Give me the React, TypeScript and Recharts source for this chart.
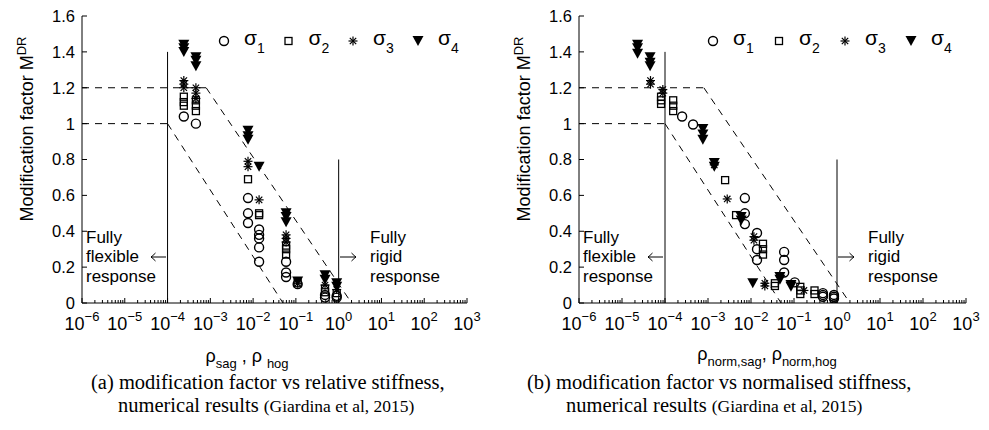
import React from 'react';
import { ScatterChart, Scatter, XAxis, YAxis, ReferenceLine } from 'recharts';

const SANS = '"Liberation Sans", Arial, sans-serif';
const SERIF = '"Liberation Serif", "Times New Roman", serif';

// axis ticks
const xMajorTicks = [1e-6, 1e-5, 1e-4, 1e-3, 1e-2, 1e-1, 1, 10, 100, 1000];
const xMinorSteps = [2, 3, 4, 5, 6, 7, 8, 9];
const xTicks = [
  ...xMajorTicks,
  ...xMajorTicks.slice(0, -1).flatMap((d) => xMinorSteps.map((m) => m * d)),
];
const yTicks = [0, 0.2, 0.4, 0.6, 0.8, 1, 1.2, 1.4, 1.6];
const sigmaNames = ['1', '2', '3', '4'];

type Pt = { x: number; y: number };

// (a) relative stiffness
const relSigma1: Pt[] = [
  { x: 2.4e-4, y: 1.04 }, { x: 4.6e-4, y: 1.0 },
  { x: 7.6e-3, y: 0.585 }, { x: 7.6e-3, y: 0.5 }, { x: 7.6e-3, y: 0.446 },
  { x: 0.0138, y: 0.41 }, { x: 0.0138, y: 0.38 }, { x: 0.0138, y: 0.36 },
  { x: 0.0138, y: 0.31 }, { x: 0.0138, y: 0.23 },
  { x: 0.059, y: 0.23 }, { x: 0.059, y: 0.17 }, { x: 0.059, y: 0.145 },
  { x: 0.11, y: 0.105 },
  { x: 0.48, y: 0.045 }, { x: 0.48, y: 0.03 },
  { x: 0.9, y: 0.04 }, { x: 0.9, y: 0.03 },
];
const relSigma2: Pt[] = [
  { x: 2.4e-4, y: 1.15 }, { x: 2.4e-4, y: 1.12 }, { x: 2.4e-4, y: 1.1 },
  { x: 4.6e-4, y: 1.13 }, { x: 4.6e-4, y: 1.1 }, { x: 4.6e-4, y: 1.07 },
  { x: 7.6e-3, y: 0.69 },
  { x: 0.0138, y: 0.5 }, { x: 0.0138, y: 0.49 },
  { x: 0.059, y: 0.32 }, { x: 0.059, y: 0.3 }, { x: 0.059, y: 0.27 },
  { x: 0.11, y: 0.11 },
  { x: 0.48, y: 0.08 }, { x: 0.48, y: 0.06 },
  { x: 0.9, y: 0.055 },
];
const relSigma3: Pt[] = [
  { x: 2.4e-4, y: 1.24 }, { x: 2.4e-4, y: 1.22 }, { x: 2.4e-4, y: 1.2 },
  { x: 4.6e-4, y: 1.2 }, { x: 4.6e-4, y: 1.17 }, { x: 4.6e-4, y: 1.14 },
  { x: 7.6e-3, y: 0.79 }, { x: 7.6e-3, y: 0.76 },
  { x: 0.0138, y: 0.575 },
  { x: 0.059, y: 0.38 }, { x: 0.059, y: 0.36 }, { x: 0.059, y: 0.34 },
  { x: 0.11, y: 0.11 },
  { x: 0.48, y: 0.1 },
  { x: 0.9, y: 0.075 },
];
const relSigma4: Pt[] = [
  { x: 2.4e-4, y: 1.44 }, { x: 2.4e-4, y: 1.42 }, { x: 2.4e-4, y: 1.4 },
  { x: 4.6e-4, y: 1.37 }, { x: 4.6e-4, y: 1.35 }, { x: 4.6e-4, y: 1.32 },
  { x: 7.6e-3, y: 0.96 }, { x: 7.6e-3, y: 0.93 }, { x: 7.6e-3, y: 0.91 },
  { x: 0.0138, y: 0.76 },
  { x: 0.059, y: 0.5 }, { x: 0.059, y: 0.48 }, { x: 0.059, y: 0.45 },
  { x: 0.11, y: 0.12 },
  { x: 0.48, y: 0.155 }, { x: 0.48, y: 0.13 },
  { x: 0.9, y: 0.11 }, { x: 0.9, y: 0.09 },
];

// (b) normalised stiffness
const normSigma1: Pt[] = [
  { x: 2.5e-4, y: 1.04 }, { x: 4.5e-4, y: 0.995 },
  { x: 7.2e-3, y: 0.585 }, { x: 7.2e-3, y: 0.5 }, { x: 7.2e-3, y: 0.44 },
  { x: 0.0138, y: 0.39 }, { x: 0.0138, y: 0.3 }, { x: 0.0138, y: 0.24 },
  { x: 0.059, y: 0.285 }, { x: 0.059, y: 0.24 }, { x: 0.059, y: 0.17 },
  { x: 0.104, y: 0.115 },
  { x: 0.47, y: 0.055 }, { x: 0.47, y: 0.045 }, { x: 0.47, y: 0.035 },
  { x: 0.85, y: 0.045 }, { x: 0.85, y: 0.035 }, { x: 0.85, y: 0.025 },
];
const normSigma2: Pt[] = [
  { x: 8.1e-5, y: 1.15 }, { x: 8.1e-5, y: 1.13 }, { x: 8.1e-5, y: 1.11 },
  { x: 1.55e-4, y: 1.13 }, { x: 1.55e-4, y: 1.1 }, { x: 1.55e-4, y: 1.07 },
  { x: 2.5e-3, y: 0.685 },
  { x: 4.5e-3, y: 0.49 },
  { x: 0.019, y: 0.33 }, { x: 0.019, y: 0.3 }, { x: 0.019, y: 0.27 },
  { x: 0.036, y: 0.11 }, { x: 0.036, y: 0.095 },
  { x: 0.14, y: 0.09 }, { x: 0.14, y: 0.07 }, { x: 0.14, y: 0.05 },
  { x: 0.3, y: 0.07 }, { x: 0.3, y: 0.05 },
];
const normSigma3: Pt[] = [
  { x: 4.6e-5, y: 1.24 }, { x: 4.6e-5, y: 1.22 },
  { x: 8.9e-5, y: 1.19 }, { x: 8.9e-5, y: 1.17 },
  { x: 1.4e-3, y: 0.77 },
  { x: 2.8e-3, y: 0.58 },
  { x: 0.0117, y: 0.37 }, { x: 0.0117, y: 0.35 },
  { x: 0.021, y: 0.11 }, { x: 0.021, y: 0.095 },
  { x: 0.17, y: 0.07 },
];
const normSigma4: Pt[] = [
  { x: 2.3e-5, y: 1.44 }, { x: 2.3e-5, y: 1.42 }, { x: 2.3e-5, y: 1.39 },
  { x: 4.5e-5, y: 1.37 }, { x: 4.5e-5, y: 1.34 }, { x: 4.5e-5, y: 1.32 },
  { x: 7.6e-4, y: 0.97 }, { x: 7.6e-4, y: 0.94 }, { x: 7.6e-4, y: 0.91 },
  { x: 1.4e-3, y: 0.78 }, { x: 1.4e-3, y: 0.76 },
  { x: 5.9e-3, y: 0.48 }, { x: 5.9e-3, y: 0.46 },
  { x: 0.011, y: 0.11 },
  { x: 0.047, y: 0.145 }, { x: 0.047, y: 0.13 },
  { x: 0.085, y: 0.1 }, { x: 0.085, y: 0.09 },
];

// guide lines (same for both panels)
const dashedGuides: Pt[][] = [
  [{ x: 1e-6, y: 1.2 }, { x: 8e-4, y: 1.2 }],
  [{ x: 8e-4, y: 1.2 }, { x: 2, y: 0 }],
  [{ x: 1e-6, y: 1 }, { x: 1e-4, y: 1 }],
  [{ x: 1e-4, y: 1 }, { x: 0.05, y: 0 }],
];
const solidGuides: Pt[][] = [
  [{ x: 1e-4, y: 0 }, { x: 1e-4, y: 1.4 }],
  [{ x: 1, y: 0 }, { x: 1, y: 0.8 }],
];

const flexibleLines = ['Fully', 'flexible', 'response'];
const rigidLines = ['Fully', 'rigid', 'response'];

// markers
const circleShape = (p: any) => (
  <circle cx={p.cx} cy={p.cy} r={4.5} fill="none" stroke="#000" strokeWidth={1.4} />
);
const squareShape = (p: any) => (
  <rect x={p.cx - 3.5} y={p.cy - 3.5} width={7} height={7} fill="none" stroke="#000" strokeWidth={1.3} />
);
const starShape = (p: any) => {
  const r = 4.5;
  const d = 3.2;
  return (
    <g stroke="#000" strokeWidth={1.2}>
      <line x1={p.cx - r} y1={p.cy} x2={p.cx + r} y2={p.cy} />
      <line x1={p.cx} y1={p.cy - r} x2={p.cx} y2={p.cy + r} />
      <line x1={p.cx - d} y1={p.cy - d} x2={p.cx + d} y2={p.cy + d} />
      <line x1={p.cx - d} y1={p.cy + d} x2={p.cx + d} y2={p.cy - d} />
    </g>
  );
};
const triShape = (p: any) => (
  <polygon
    points={`${p.cx - 5.5},${p.cy - 5} ${p.cx + 5.5},${p.cy - 5} ${p.cx},${p.cy + 5}`}
    fill="#000"
  />
);
const shapes = [circleShape, squareShape, starShape, triShape];

// ticks (drawn inward, MATLAB style)
const isMajor = (v: number) => Math.abs(Math.log10(v) - Math.round(Math.log10(v))) < 1e-6;

const bottomTick = (p: any) => {
  const v = p.payload.value;
  const major = isMajor(v);
  const e = Math.round(Math.log10(v));
  return (
    <g>
      <line x1={p.x} x2={p.x} y1={p.y} y2={p.y - (major ? 5 : 3)} stroke="#000" />
      {major && (
        <text x={p.x} y={p.y + 27} textAnchor="middle" fontSize={18} fontFamily={SANS} fill="#000">
          10
          <tspan dy={-9} fontSize={13}>{e < 0 ? '\u2212' + -e : String(e)}</tspan>
        </text>
      )}
    </g>
  );
};
const topTick = (p: any) => {
  const major = isMajor(p.payload.value);
  return <line x1={p.x} x2={p.x} y1={p.y} y2={p.y + (major ? 5 : 3)} stroke="#000" />;
};
const leftTick = (p: any) => (
  <g>
    <line x1={p.x} x2={p.x + 5} y1={p.y} y2={p.y} stroke="#000" />
    <text x={p.x - 7} y={p.y} dy="0.36em" textAnchor="end" fontSize={16.5} fontFamily={SANS} fill="#000">
      {String(p.payload.value)}
    </text>
  </g>
);
const rightTick = (p: any) => <line x1={p.x} x2={p.x - 5} y1={p.y} y2={p.y} stroke="#000" />;

function Panel({ series, yWidth, right, width }: { series: Pt[][]; yWidth: number; right: number; width: number }) {
  return (
    <ScatterChart width={width} height={370} margin={{ top: 16, right, bottom: 0, left: 0 }}>
      <XAxis
        xAxisId="b" dataKey="x" type="number" scale="log" domain={[1e-6, 1e3]} allowDataOverflow
        ticks={xTicks} interval={0} tickSize={0} tickMargin={0} tick={bottomTick} tickLine={false}
        axisLine={{ stroke: '#000' }} height={67}
      />
      <XAxis
        xAxisId="t" orientation="top" type="number" scale="log" domain={[1e-6, 1e3]} allowDataOverflow
        ticks={xTicks} interval={0} tickSize={0} tickMargin={0} tick={topTick} tickLine={false}
        axisLine={{ stroke: '#000' }} height={0}
      />
      <YAxis
        yAxisId="l" dataKey="y" type="number" domain={[0, 1.6]} allowDataOverflow ticks={yTicks} interval={0}
        tickSize={0} tickMargin={0} tick={leftTick} tickLine={false} axisLine={{ stroke: '#000' }} width={yWidth}
      />
      <YAxis
        yAxisId="r" orientation="right" type="number" domain={[0, 1.6]} allowDataOverflow ticks={yTicks} interval={0}
        tickSize={0} tickMargin={0} tick={rightTick} tickLine={false} axisLine={{ stroke: '#000' }} width={0}
      />
      {dashedGuides.map((seg, i) => (
        <ReferenceLine key={'d' + i} xAxisId="b" yAxisId="l" segment={seg} stroke="#000" strokeWidth={1} strokeDasharray="7 6" />
      ))}
      {solidGuides.map((seg, i) => (
        <ReferenceLine key={'s' + i} xAxisId="b" yAxisId="l" segment={seg} stroke="#000" strokeWidth={1} />
      ))}
      {series.map((data, i) => (
        <Scatter
          key={i} name={'σ' + sigmaNames[i]} xAxisId="b" yAxisId="l" data={data}
          shape={shapes[i]} isAnimationActive={false}
        />
      ))}
    </ScatterChart>
  );
}

function Legend({ xs, y }: { xs: number[]; y: number }) {
  return (
    <g>
      {xs.map((x, i) => (
        <g key={i}>
          {shapes[i]({ cx: x, cy: y })}
          <text x={x + 20} y={y + 4} fontSize={21} fontFamily={SANS} fill="#000">
            σ<tspan dy={8} fontSize={14}>{sigmaNames[i]}</tspan>
          </text>
        </g>
      ))}
    </g>
  );
}

// thin TeX-like arrows
function Arrow({ x1, x2, y }: { x1: number; x2: number; y: number }) {
  const s = x2 > x1 ? 1 : -1;
  return (
    <g stroke="#000" strokeWidth={1} fill="none">
      <line x1={x1} y1={y} x2={x2} y2={y} />
      <path d={`M${x2 - s * 4.5},${y - 4} Q${x2 - s * 1.5},${y - 1} ${x2},${y} Q${x2 - s * 1.5},${y + 1} ${x2 - s * 4.5},${y + 4}`} />
    </g>
  );
}

function Block({ x, lines }: { x: number; lines: string[] }) {
  return (
    <text x={x} y={243} fontSize={17} fontFamily={SANS} fill="#000">
      {lines.map((l, i) => (
        <tspan key={i} x={x} dy={i === 0 ? 0 : 19.3}>{l}</tspan>
      ))}
    </text>
  );
}

function Notes({ dx, rigidX }: { dx: number; rigidX: number }) {
  return (
    <g>
      <Block x={dx + 86} lines={flexibleLines} />
      <Arrow x1={dx + 166} x2={dx + 151} y={257} />
      <Arrow x1={rigidX + 1} x2={rigidX + 17} y={257} />
      <Block x={rigidX + 31} lines={rigidLines} />
    </g>
  );
}

export default function App() {
  const lab = { fontFamily: SANS, fill: '#000' };
  const cap = { fontFamily: SERIF, fill: '#000', fontSize: 20.5 };
  return (
    <div style={{ position: 'absolute', left: 0, top: 0, width: 989, height: 430, background: '#fff' }}>
      <div style={{ position: 'absolute', left: 0, top: 0 }}>
        <Panel series={[relSigma1, relSigma2, relSigma3, relSigma4]} yWidth={82} right={27} width={494} />
      </div>
      <div style={{ position: 'absolute', left: 494, top: 0 }}>
        <Panel series={[normSigma1, normSigma2, normSigma3, normSigma4]} yWidth={85} right={23} width={495} />
      </div>
      <svg width={989} height={430} style={{ position: 'absolute', left: 0, top: 0, pointerEvents: 'none' }}>
        <text transform="translate(33,129) rotate(-90)" textAnchor="middle" fontSize={18} {...lab}>
          Modification factor M<tspan dy={-7} fontSize={13}>DR</tspan>
        </text>
        <text transform="translate(530,129) rotate(-90)" textAnchor="middle" fontSize={18} {...lab}>
          Modification factor M<tspan dy={-7} fontSize={13}>DR</tspan>
        </text>

        <Legend xs={[224, 288.5, 353, 418]} y={41} />
        <Legend xs={[713, 779, 845, 911]} y={41} />

        <Notes dx={0} rigidX={339} />
        <Notes dx={497} rigidX={837} />

        <text x={247} y={362} textAnchor="middle" fontSize={18} {...lab}>
          ρ<tspan dy={6} fontSize={13}>sag</tspan>
          <tspan dy={-6}> , ρ </tspan>
          <tspan dy={6} fontSize={13}>hog</tspan>
        </text>
        <text x={767} y={360} textAnchor="middle" fontSize={18} {...lab}>
          ρ<tspan dy={6} fontSize={13}>norm,sag</tspan>
          <tspan dy={-6}>, ρ</tspan>
          <tspan dy={6} fontSize={13}>norm,hog</tspan>
        </text>

        <text x={91} y={389} {...cap}>
          (a) modification factor vs relative stiffness,
          <tspan x={118} dy={23}>numerical results </tspan>
          <tspan fontSize={17.5}>(Giardina et al, 2015)</tspan>
        </text>
        <text x={527} y={389} {...cap}>
          (b) modification factor vs normalised stiffness,
          <tspan x={566} dy={23}>numerical results </tspan>
          <tspan fontSize={17.5}>(Giardina et al, 2015)</tspan>
        </text>
      </svg>
    </div>
  );
}
